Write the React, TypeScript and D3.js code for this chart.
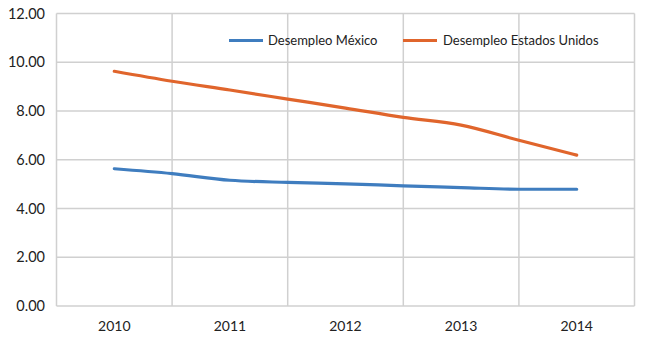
import React from "react";
import * as d3 from "d3";

const years = ["2010", "2011", "2012", "2013", "2014"];
const positions = [0, 0.5, 1, 1.5, 2, 2.5, 3, 3.5, 4];
const mexico = [5.63, 5.43, 5.16, 5.07, 5.01, 4.93, 4.86, 4.79, 4.79];
const usa = [9.63, 9.22, 8.86, 8.49, 8.12, 7.74, 7.42, 6.8, 6.19];
const yTicks = [0, 2, 4, 6, 8, 10, 12];
const seriesNames = ["Desempleo México", "Desempleo Estados Unidos"];
const colors = ["#3f7dbf", "#e0652c"];

export default function App() {
  const W = 645, H = 338;
  const left = 56.5, right = 634.5, top = 13.5, bottom = 306;
  const x = d3.scaleBand().domain(years).range([left, right]);
  const xPos = (p: number) => x(years[0])! + x.bandwidth() / 2 + p * x.bandwidth();
  const y = d3.scaleLinear().domain([0, 12]).range([bottom, top]);
  const line = d3
    .line<number>()
    .x((_, i) => xPos(positions[i]))
    .y((d) => y(d))
    .curve(d3.curveMonotoneX);
  const font = "Lato, 'Open Sans', sans-serif";
  const grid = "#d0d0d0";
  return (
    <svg width={W} height={H} style={{ position: "absolute", left: 0, top: 0, background: "#fff" }}>
      <rect width={W} height={H} fill="#fff" />
      {yTicks.map((t) => (
        <g key={t}>
          <line x1={left} x2={right} y1={y(t)} y2={y(t)} stroke={grid} strokeWidth={1.5} />
          <text x={45} y={y(t)} dy="0.36em" textAnchor="end" fontFamily={font} fontSize={14.5} fill="#222">
            {t.toFixed(2)}
          </text>
        </g>
      ))}
      {[...years.map((yr) => x(yr)!), right].map((gx, i) => (
        <line key={i} x1={gx} x2={gx} y1={top} y2={bottom} stroke={grid} strokeWidth={1.5} />
      ))}
      {years.map((yr) => (
        <text key={yr} x={x(yr)! + x.bandwidth() / 2} y={326} dy="0.36em" textAnchor="middle" fontFamily={font} fontSize={14} fill="#222">
          {yr}
        </text>
      ))}
      {[mexico, usa].map((s, i) => (
        <path key={i} d={line(s)!} fill="none" stroke={colors[i]} strokeWidth={3.2} strokeLinecap="round" />
      ))}
      {[
        { lx: 229, tx: 268 },
        { lx: 403, tx: 443 },
      ].map((l, i) => (
        <g key={i}>
          <line x1={l.lx} x2={l.lx + 34} y1={40.5} y2={40.5} stroke={colors[i]} strokeWidth={3.2} />
          <text x={l.tx} y={40.5} dy="0.36em" fontFamily={font} fontSize={13} fill="#222">
            {seriesNames[i]}
          </text>
        </g>
      ))}
    </svg>
  );
}
